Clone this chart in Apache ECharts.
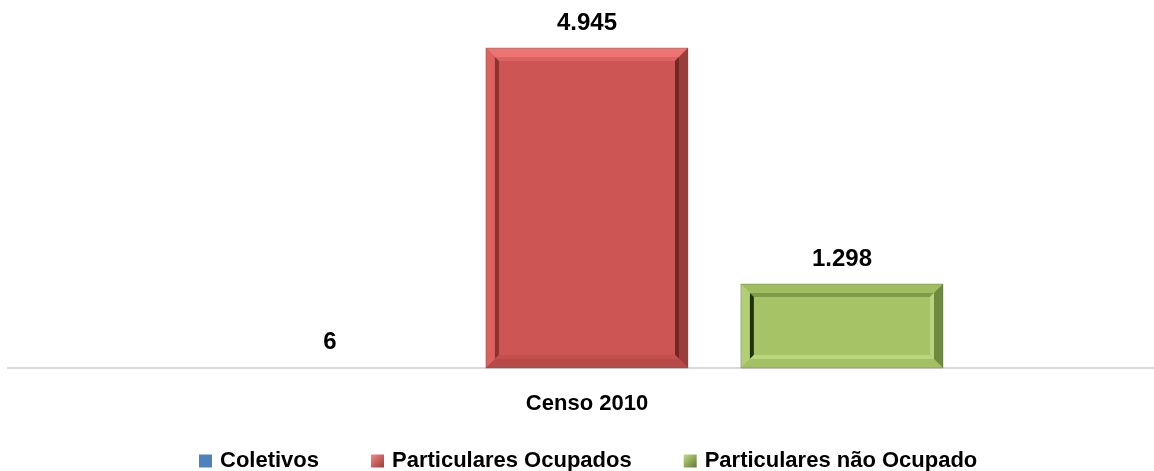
<!DOCTYPE html>
<html>
<head>
<meta charset="utf-8">
<script src="https://cdn.jsdelivr.net/npm/echarts@6/dist/echarts.min.js"></script>
<style>
html,body{margin:0;padding:0;background:#fff;}
#chart{width:1154px;height:471px;}
</style>
</head>
<body>
<div id="chart"></div>
<script>
const categories = ['Censo 2010'];
const seriesNames = ['Coletivos', 'Particulares Ocupados', 'Particulares não Ocupado'];
const coletivos = [6];
const particularesOcupados = [4945];
const particularesNaoOcupado = [1298];

const FONT = '"Liberation Sans", Arial, sans-serif';

const palettes = [
  { base:'#4F81BD', oT:'#6F9BD3', oL:'#5F8ECA', oR:'#34608F', oB:'#3F6EA5', iT:'#3F6EA5', iL:'#203850', iR:'#7AA5DA', iB:'#7AA5DA' },
  { base:'#CD5654', oT:'#EC7573', oL:'#DA625F', oR:'#9A3D3B', oB:'#B54A48', iT:'#DB6462', iL:'#8A3331', iR:'#6E2826', iB:'#C4504E' },
  { base:'#A6C465', oT:'#A0BE5F', oL:'#B3CF74', oR:'#6F8A3E', oB:'#A3C162', iT:'#7F9A4A', iL:'#23300F', iR:'#B9D67E', iB:'#BAD67F' }
];
const offsets = [-0.219, 0.0052, 0.2277];
const BAR_FRAC = 0.1763;

function fmt(v){ return String(v).replace(/\B(?=(\d{3})+(?!\d))/g, '.'); }

function frame(x0, y0, x1, y1, b, cT, cL, cR, cB){
  return [
    {type:'polygon', shape:{points:[[x0,y0],[x1,y0],[x1-b,y0+b],[x0+b,y0+b]]}, style:{fill:cT}},
    {type:'polygon', shape:{points:[[x0,y0],[x0+b,y0+b],[x0+b,y1-b],[x0,y1]]}, style:{fill:cL}},
    {type:'polygon', shape:{points:[[x1,y0],[x1,y1],[x1-b,y1-b],[x1-b,y0+b]]}, style:{fill:cR}},
    {type:'polygon', shape:{points:[[x0,y1],[x0+b,y1-b],[x1-b,y1-b],[x1,y1]]}, style:{fill:cB}}
  ];
}

function makeRender(si){
  return function(params, api){
    const cat = api.value(0), val = api.value(1);
    const base = api.coord([cat, 0]);
    const top = api.coord([cat, val]);
    const band = api.size([1, 0])[0];
    const cx = base[0] + band * offsets[si];
    const w = band * BAR_FRAC;
    const x0 = cx - w/2, x1 = cx + w/2, y0 = top[1], y1 = base[1];
    const p = palettes[si];
    const children = [];
    const h = y1 - y0;
    const b = 9, b2 = 4;
    if (h > 2*(b+b2) + 4) {
      children.push({type:'rect', shape:{x:x0, y:y0, width:w, height:h}, style:{fill:p.base}});
      children.push(...frame(x0, y0, x1, y1, b, p.oT, p.oL, p.oR, p.oB));
      children.push(...frame(x0+b, y0+b, x1-b, y1-b, b2, p.iT, p.iL, p.iR, p.iB));
      children.push({type:'rect', shape:{x:x0+b+b2, y:y0+b+b2, width:w-2*(b+b2), height:h-2*(b+b2)}, style:{fill:p.base}});
      children.push({type:'rect', shape:{x:x0, y:y0, width:w, height:h}, style:{fill:'none', stroke:'rgba(90,90,90,0.35)', lineWidth:1}});
    } else if (h >= 1) {
      children.push({type:'rect', shape:{x:x0, y:y0, width:w, height:h}, style:{fill:p.base}});
    }
    children.push({type:'text', style:{text:fmt(val), x:cx, y:y0-25, align:'center', verticalAlign:'middle', fontSize:24, fontWeight:'bold', fontFamily:FONT, fill:'#000'}});
    return {type:'group', children};
  };
}

const allValues = [coletivos, particularesOcupados, particularesNaoOcupado];
const legendColors = [
  '#4F81BD',
  new echarts.graphic.LinearGradient(0,0,1,1,[{offset:0,color:'#F08A88'},{offset:1,color:'#9E3A38'}]),
  new echarts.graphic.LinearGradient(0,0,1,1,[{offset:0,color:'#C3DC8A'},{offset:1,color:'#5E7A2E'}])
];

const chart = echarts.init(document.getElementById('chart'));
chart.setOption({
  animation:false,
  grid:{left:8, right:0, top:20, bottom:103, containLabel:false},
  xAxis:{
    type:'category', data:categories,
    axisLine:{show:true, lineStyle:{color:'#D9D9D9', width:2}},
    axisTick:{show:false},
    axisLabel:{margin:25, fontSize:22, fontWeight:'bold', fontFamily:FONT, color:'#000', padding:[0,0,0,12]}
  },
  yAxis:{type:'value', show:false, min:0, max:5378, splitLine:{show:false}},
  legend:{
    left:194, top:445, icon:'rect', itemWidth:13, itemHeight:13, itemGap:52,
    textStyle:{fontSize:22, fontWeight:'bold', fontFamily:FONT, color:'#000', padding:[0,0,0,3]},
    data: seriesNames.map((n,i)=>({name:n, itemStyle:{color:legendColors[i]}}))
  },
  series: seriesNames.map((n,i)=>({
    name:n, type:'custom',
    itemStyle:{color:palettes[i].base},
    encode:{x:0, y:1},
    data: categories.map((c,ci)=>[ci, allValues[i][ci]]),
    renderItem: makeRender(i)
  }))
});
</script>
</body>
</html>
